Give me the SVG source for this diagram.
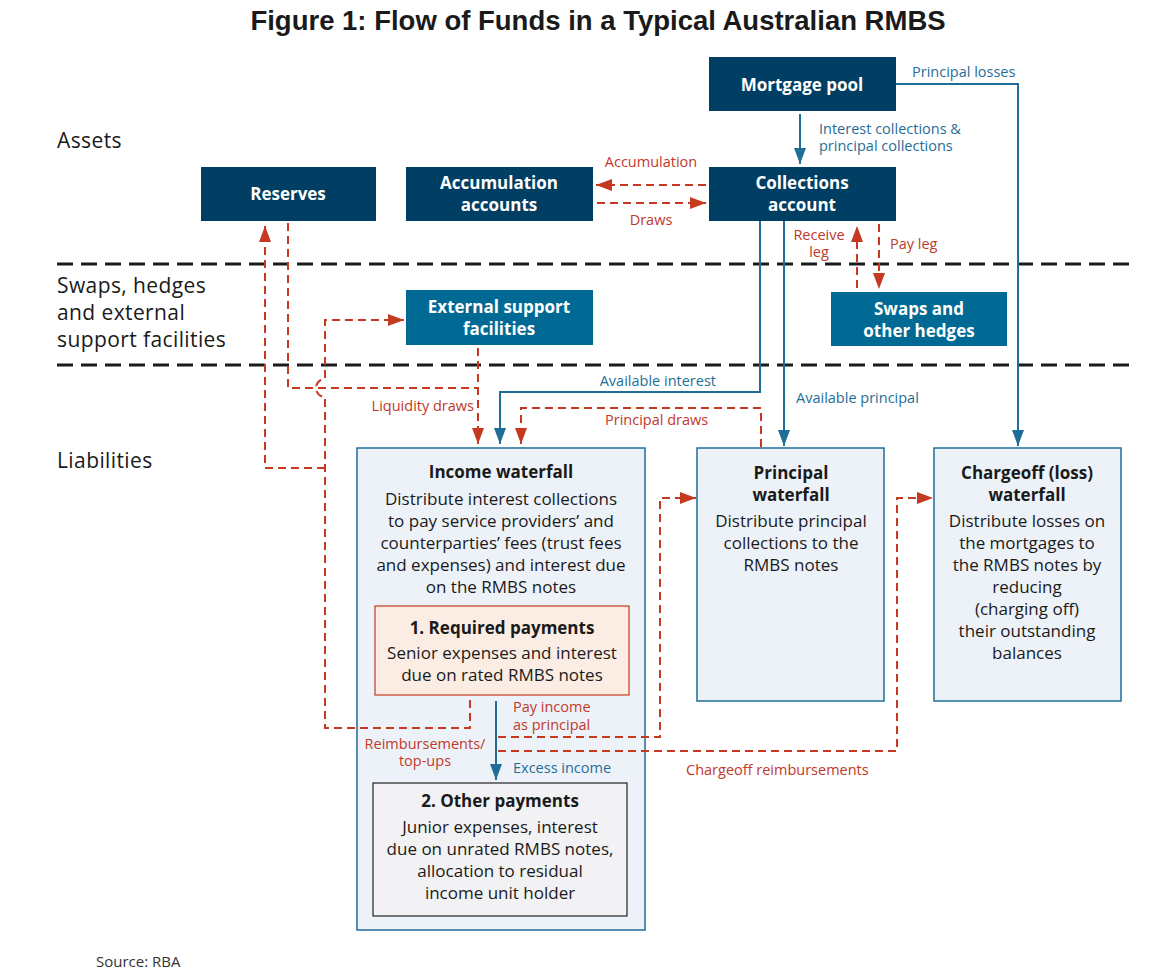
<svg xmlns="http://www.w3.org/2000/svg" width="1158" height="979" viewBox="0 0 1158 979">
<style>
.title{font-family:"Liberation Sans",Arial,sans-serif;font-weight:bold;font-size:27.5px;fill:#1a1a1a}
.sec{font-family:"Open Sans","Liberation Sans",sans-serif;font-size:21px;letter-spacing:0.4px;fill:#1a1a1a}
.bx{font-family:"Open Sans","Liberation Sans",sans-serif;font-weight:bold;font-size:17px;fill:#ffffff;text-anchor:middle}
.hd{font-family:"Open Sans","Liberation Sans",sans-serif;font-weight:bold;font-size:17px;fill:#1a1a1a;text-anchor:middle}
.bd{font-family:"Open Sans","Liberation Sans",sans-serif;font-size:17px;fill:#1a1a1a;text-anchor:middle}
.lb{font-family:"Open Sans","Liberation Sans",sans-serif;font-size:14.5px;fill:#1f6e98}
.lr{font-family:"Open Sans","Liberation Sans",sans-serif;font-size:14.5px;fill:#c0392b}
.src{font-family:"Open Sans","Liberation Sans",sans-serif;font-size:15px;fill:#333333}
.navy{fill:#003f63}
.teal{fill:#006a95}
.wf{fill:#edf2f8;stroke:#1f6e98;stroke-width:1.5}
.sep{fill:none;stroke:#1a1a1a;stroke-width:3;stroke-dasharray:16 8}
.blue{fill:none;stroke:#1f6e98;stroke-width:2}
.red{fill:none;stroke:#c4391f;stroke-width:2;stroke-dasharray:8 5}
</style>
<defs>
<marker id="ab" markerUnits="userSpaceOnUse" viewBox="0 0 16 12" markerWidth="16" markerHeight="12" refX="16" refY="6" orient="auto"><path d="M0,0 L16,6 L0,12 z" fill="#1f6e98"/></marker>
<marker id="ar" markerUnits="userSpaceOnUse" viewBox="0 0 16 12" markerWidth="16" markerHeight="12" refX="16" refY="6" orient="auto"><path d="M0,0 L16,6 L0,12 z" fill="#c4391f"/></marker>
</defs>
<rect width="1158" height="979" fill="#ffffff"/>
<text class="title" x="598" y="30" text-anchor="middle">Figure 1: Flow of Funds in a Typical Australian RMBS</text>

<g id="sections">
<text class="sec" x="57" y="148">Assets</text>
<text class="sec" x="57" y="293">Swaps, hedges</text>
<text class="sec" x="57" y="320">and external</text>
<text class="sec" x="57" y="347">support facilities</text>
<text class="sec" x="57" y="468">Liabilities</text>
<path class="sep" d="M57,264 H1136"/>
<path class="sep" d="M57,365 H1136"/>
</g>

<g id="mortgage-pool"><rect class="navy" x="709" y="57" width="187" height="54"/><text class="bx" x="802" y="91">Mortgage pool</text></g>
<g id="collections-account"><rect class="navy" x="709" y="167" width="187" height="54"/><text class="bx" x="802" y="189">Collections</text><text class="bx" x="802" y="211">account</text></g>
<g id="accumulation-accounts"><rect class="navy" x="406" y="167" width="187" height="54"/><text class="bx" x="499" y="189">Accumulation</text><text class="bx" x="499" y="211">accounts</text></g>
<g id="reserves"><rect class="navy" x="201" y="167" width="175" height="54"/><text class="bx" x="288" y="200">Reserves</text></g>
<g id="external-support"><rect class="teal" x="406" y="290" width="187" height="55"/><text class="bx" x="499" y="313">External support</text><text class="bx" x="499" y="335">facilities</text></g>
<g id="swaps-hedges"><rect class="teal" x="831" y="292" width="176" height="54"/><text class="bx" x="919" y="315">Swaps and</text><text class="bx" x="919" y="337">other hedges</text></g>

<g id="income-waterfall">
<rect class="wf" x="357" y="448" width="288" height="482"/>
<text class="hd" x="501" y="478">Income waterfall</text>
<text class="bd" x="501" y="505">Distribute interest collections</text>
<text class="bd" x="501" y="527">to pay service providers’ and</text>
<text class="bd" x="501" y="549">counterparties’ fees (trust fees</text>
<text class="bd" x="501" y="571">and expenses) and interest due</text>
<text class="bd" x="501" y="593">on the RMBS notes</text>
</g>
<g id="required-payments">
<rect x="375" y="606" width="254" height="89" fill="#fbede3" stroke="#c4391f" stroke-width="1.2"/>
<text class="hd" x="502" y="634">1. Required payments</text>
<text class="bd" x="502" y="659">Senior expenses and interest</text>
<text class="bd" x="502" y="681">due on rated RMBS notes</text>
</g>
<g id="other-payments">
<rect x="373" y="783" width="254" height="133" fill="#f2f2f4" stroke="#222222" stroke-width="1.2"/>
<text class="hd" x="500" y="807">2. Other payments</text>
<text class="bd" x="500" y="833">Junior expenses, interest</text>
<text class="bd" x="500" y="855">due on unrated RMBS notes,</text>
<text class="bd" x="500" y="877">allocation to residual</text>
<text class="bd" x="500" y="899">income unit holder</text>
</g>
<g id="principal-waterfall">
<rect class="wf" x="697" y="448" width="187" height="253"/>
<text class="hd" x="791" y="479">Principal</text>
<text class="hd" x="791" y="501">waterfall</text>
<text class="bd" x="791" y="527">Distribute principal</text>
<text class="bd" x="791" y="549">collections to the</text>
<text class="bd" x="791" y="571">RMBS notes</text>
</g>
<g id="chargeoff-waterfall">
<rect class="wf" x="934" y="448" width="187" height="253"/>
<text class="hd" x="1027" y="479">Chargeoff (loss)</text>
<text class="hd" x="1027" y="501">waterfall</text>
<text class="bd" x="1027" y="527">Distribute losses on</text>
<text class="bd" x="1027" y="549">the mortgages to</text>
<text class="bd" x="1027" y="571">the RMBS notes by</text>
<text class="bd" x="1027" y="593">reducing</text>
<text class="bd" x="1027" y="615">(charging off)</text>
<text class="bd" x="1027" y="637">their outstanding</text>
<text class="bd" x="1027" y="659">balances</text>
</g>

<g id="connectors">
<path class="blue" d="M800,114 V164" marker-end="url(#ab)"/>
<path class="blue" d="M896,84 H1018 V446" marker-end="url(#ab)"/>
<path class="blue" d="M760,221 V392 H500 V444" marker-end="url(#ab)"/>
<path class="blue" d="M784,221 V446" marker-end="url(#ab)"/>
<path class="blue" d="M496,701 V780" marker-end="url(#ab)"/>

<path class="red" d="M706,185 H596" marker-end="url(#ar)"/>
<path class="red" d="M597,203 H706" marker-end="url(#ar)"/>
<path class="red" d="M857,288 V226" marker-end="url(#ar)"/>
<path class="red" d="M879,224 V289" marker-end="url(#ar)"/>
<path class="red" d="M288,223 V388 H478"/>
<path class="red" d="M478,348 V444" marker-end="url(#ar)"/>
<path class="red" d="M470,700 V728 H325 V397 A9,9 0 0 1 325,379 V320 H404" marker-end="url(#ar)"/>
<path class="red" d="M325,468 H265 V226" marker-end="url(#ar)"/>
<path class="red" d="M498,737 H660 V498 H696" marker-end="url(#ar)"/>
<path class="red" d="M498,751 H897 V498 H933" marker-end="url(#ar)"/>
<path class="red" d="M761,447 V408 H521 V444" marker-end="url(#ar)"/>
</g>

<g id="labels">
<text class="lb" x="912" y="77">Principal losses</text>
<text class="lb" x="819" y="134">Interest collections &amp;</text>
<text class="lb" x="819" y="151">principal collections</text>
<text class="lb" x="716" y="386" text-anchor="end">Available interest</text>
<text class="lb" x="796" y="403">Available principal</text>
<text class="lb" x="513" y="773">Excess income</text>
<text class="lr" x="651" y="167" text-anchor="middle">Accumulation</text>
<text class="lr" x="651" y="225" text-anchor="middle">Draws</text>
<text class="lr" x="819" y="240" text-anchor="middle">Receive</text>
<text class="lr" x="819" y="257" text-anchor="middle">leg</text>
<text class="lr" x="890" y="249">Pay leg</text>
<text class="lr" x="474" y="411" text-anchor="end">Liquidity draws</text>
<text class="lr" x="605" y="425">Principal draws</text>
<text class="lr" x="513" y="712">Pay income</text>
<text class="lr" x="513" y="730">as principal</text>
<text class="lr" x="425" y="749" text-anchor="middle">Reimbursements/</text>
<text class="lr" x="425" y="766" text-anchor="middle">top-ups</text>
<text class="lr" x="686" y="775">Chargeoff reimbursements</text>
</g>
<text class="src" x="96" y="967">Source: RBA</text>
</svg>
